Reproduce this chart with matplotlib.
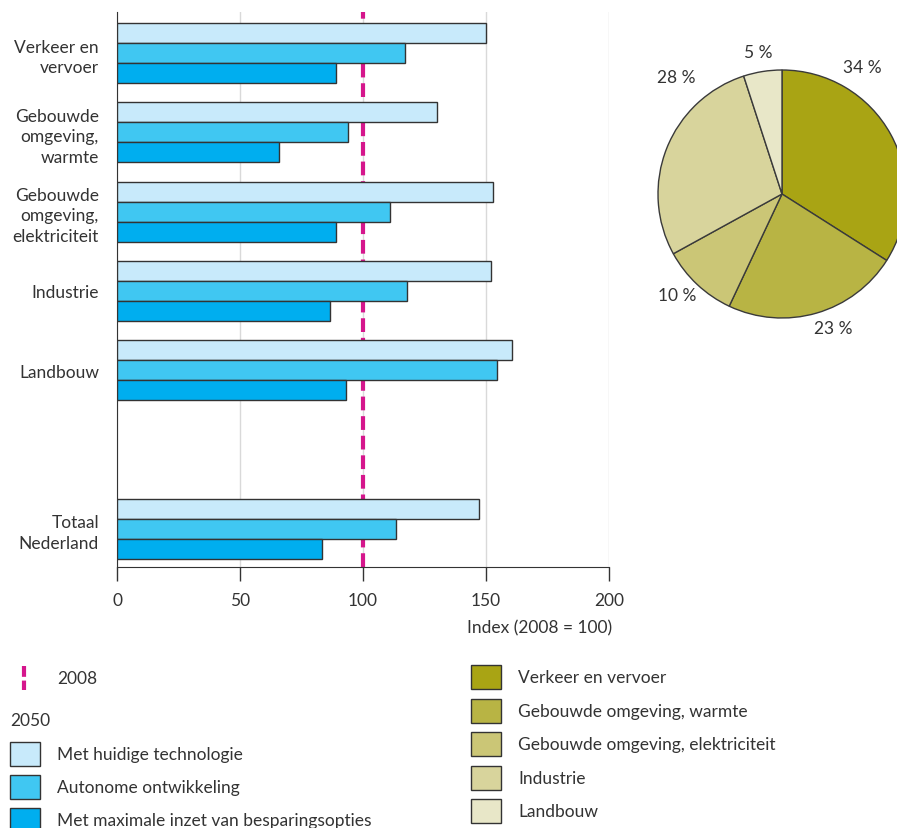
# energy use index per sector, with pie of sector shares
import numpy as np
import matplotlib
matplotlib.use('Agg')
import matplotlib.pyplot as plt
from matplotlib.patches import Rectangle
from matplotlib.lines import Line2D

# data
sectors = ['Verkeer en\nvervoer', 'Gebouwde\nomgeving,\nwarmte', 'Gebouwde\nomgeving,\nelektriciteit',
           'Industrie', 'Landbouw', 'Totaal\nNederland']
huidige = [150, 130, 153, 152, 160.5, 147]
autonoom = [117, 94, 111, 118, 154.5, 113.5]
maximaal = [89, 66, 89, 86.5, 93, 83.5]
reference_2008 = 100

pie_labels = ['Verkeer en vervoer', 'Gebouwde omgeving, warmte', 'Gebouwde omgeving, elektriciteit',
              'Industrie', 'Landbouw']
pie_shares = [34, 23, 10, 28, 5]

series_names = ['Met huidige technologie', 'Autonome ontwikkeling', 'Met maximale inzet van besparingsopties']

# styles
bar_colors = ['#c8eafb', '#40c7f2', '#00aeef']
pie_colors = ['#a9a414', '#b8b444', '#cbc676', '#d8d49c', '#e8e7c8']
magenta = '#d5168c'
txt = '#333333'
edge = '#333333'
fs = 12.5

plt.rcParams['font.family'] = ['Lato', 'DejaVu Sans']
plt.rcParams['font.size'] = fs
plt.rcParams['text.color'] = txt

W, H = 897, 829
fig = plt.figure(figsize=(W / 100, H / 100), dpi=100)


def fx(px):
    return px / W


def fy(py):
    return 1 - py / H


# ---- bar chart ----
ax = fig.add_axes([fx(117), fy(568), fx(609) - fx(117), fy(13) - fy(568)])
group_pos = np.array([0, 1, 2, 3, 4, 6])
bh = 0.253
for k, vals in enumerate([huidige, autonoom, maximaal]):
    ax.barh(group_pos + (k - 1) * bh, vals, height=bh, color=bar_colors[k],
            edgecolor=edge, linewidth=1.0, zorder=3)
ax.axvline(reference_2008, color=magenta, linewidth=3, dashes=(3.3, 1.4), zorder=2)

ax.set_xlim(0, 200)
ax.set_ylim(6.48, -0.517)
ax.set_xticks([0, 50, 100, 150, 200])
ax.xaxis.grid(True, color='#d9d9d9', linewidth=1, zorder=0)
ax.set_axisbelow(True)
ax.set_yticks(group_pos)
ax.set_yticklabels(sectors, linespacing=1.35, ha='right')
ax.tick_params(axis='y', length=0, pad=13, colors=txt, labelsize=fs)
ax.tick_params(axis='x', length=10, width=1, pad=8, colors=txt, labelsize=fs, direction='out')
for s in ['top', 'right']:
    ax.spines[s].set_visible(False)
ax.spines['left'].set_color(edge)
ax.spines['bottom'].set_color(edge)
ax.set_xlabel('Index (2008 = 100)', color=txt, fontsize=fs)
ax.xaxis.set_label_coords(1.006, -0.095)
ax.xaxis.label.set_ha('right')

# ---- pie chart ----
ax2 = fig.add_axes([fx(658), fy(319), fx(906) - fx(658), fy(71) - fy(319)])
wedges, _ = ax2.pie(pie_shares, colors=pie_colors, startangle=90, counterclock=False,
                    wedgeprops=dict(edgecolor='#3a3a3a', linewidth=1))
ax2.set_xlim(-1, 1)
ax2.set_ylim(-1, 1)
ax2.set_aspect('auto')
ax2.axis('off')
# label placement (angle in degrees, distance in radii)
label_spots = [(57.8, 1.21), (-69, 1.16), (-136, 1.17), (132, 1.27), (99.6, 1.16)]
for share, (ang, dist) in zip(pie_shares, label_spots):
    a = np.deg2rad(ang)
    ax2.text(dist * np.cos(a), dist * np.sin(a), '%d %%' % share, ha='center', va='center',
             fontsize=fs, color=txt, clip_on=False)

# ---- legends ----
fig.add_artist(Line2D([fx(24), fx(24)], [fy(667), fy(691)], color=magenta, linewidth=3,
                      dashes=(2.6, 0.9)))
fig.text(fx(57), fy(679), '2008', va='center', fontsize=fs)
fig.text(fx(10), fy(721), '2050', va='center', fontsize=fs)
left_rows = [755, 788, 821]
for name, c, yc in zip(series_names, bar_colors, left_rows):
    fig.add_artist(Rectangle((fx(10), fy(yc + 12)), fx(30), fy(yc - 12) - fy(yc + 12),
                             facecolor=c, edgecolor=edge, linewidth=1))
    fig.text(fx(57), fy(yc), name, va='center', fontsize=fs)

right_rows = [678, 712, 745, 779, 812]
for name, c, yc in zip(pie_labels, pie_colors, right_rows):
    fig.add_artist(Rectangle((fx(471), fy(yc + 12)), fx(30), fy(yc - 12) - fy(yc + 12),
                             facecolor=c, edgecolor=edge, linewidth=1))
    fig.text(fx(518), fy(yc), name, va='center', fontsize=fs)

plt.savefig('out.png', dpi=100)
